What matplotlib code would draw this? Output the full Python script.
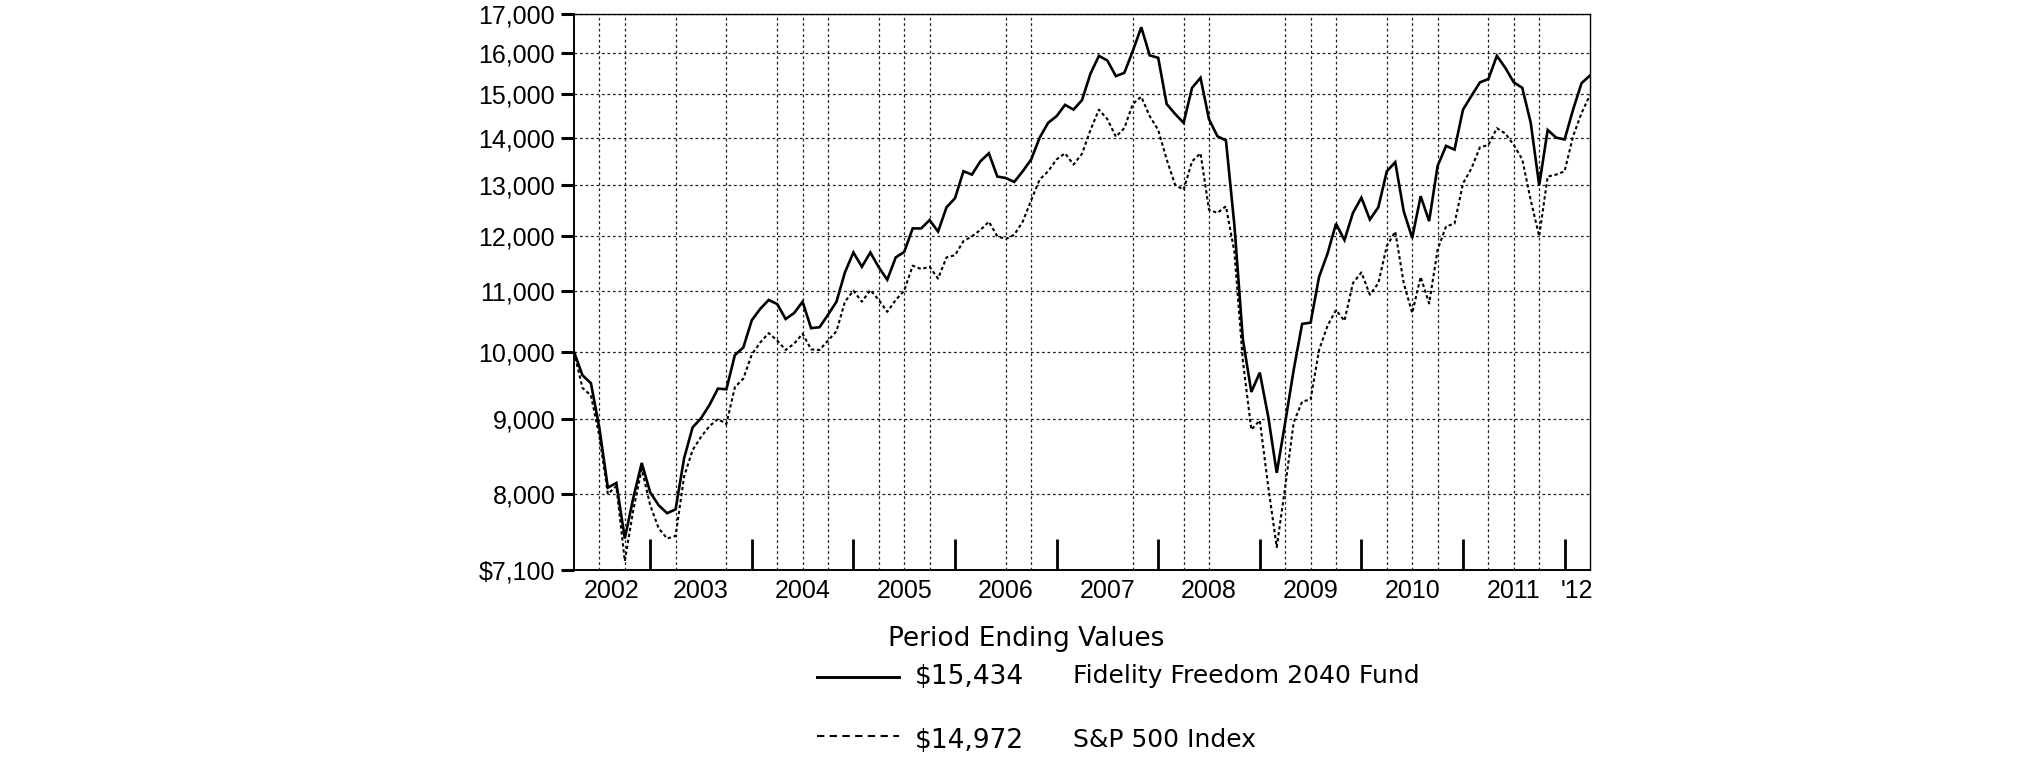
#!/usr/bin/env python3
"""
Fidelity Freedom 2040 Fund vs S&P 500 — $10,000 growth, 2002–2012
"""
import matplotlib
matplotlib.use("Agg")
import matplotlib.pyplot as plt
import matplotlib.transforms as mtransforms
from matplotlib.lines import Line2D
from matplotlib.ticker import NullLocator

plt.rcParams["font.family"] = ["Liberation Sans", "DejaVu Sans"]

# ── Data (month-end values, Mar 2002 → Mar 2012) ─────────────────────────
fund = [
    10000, 9640, 9520, 8870, 8080, 8140, 7460, 7950, 8400, 8020,
    7860, 7762, 7810, 8460, 8880, 9010, 9200, 9440, 9430, 9950,
    10070, 10510, 10700, 10850, 10780, 10530, 10630, 10820, 10380, 10395,
    10600, 10820, 11330, 11690, 11430, 11690, 11420, 11200, 11600, 11700,
    12140, 12140, 12300, 12080, 12550, 12730, 13280, 13210, 13490, 13660,
    13170, 13140, 13060, 13280, 13530, 14000, 14330, 14480, 14740, 14630,
    14850, 15480, 15920, 15800, 15420, 15500, 16040, 16650, 15930, 15870,
    14760, 14530, 14330, 15140, 15380, 14410, 14030, 13940, 12200, 10200,
    9390, 9680, 9030, 8270, 8950, 9720, 10450, 10470, 11250, 11670,
    12230, 11920, 12440, 12740, 12310, 12550, 13280, 13470, 12470, 11960,
    12770, 12280, 13390, 13820, 13740, 14630, 14950, 15270, 15350, 15920,
    15620, 15270, 15140, 14330, 12990, 14170, 14000, 13960, 14630, 15250,
    15434,
]
sp500 = [
    10000, 9450, 9340, 8760, 8000, 8100, 7200, 7800, 8320, 7860,
    7580, 7460, 7490, 8220, 8570, 8750, 8900, 9000, 8930, 9460,
    9590, 9960, 10150, 10300, 10180, 10030, 10130, 10290, 10040, 10030,
    10180, 10330, 10820, 11010, 10820, 11020, 10850, 10650, 10850, 11010,
    11450, 11390, 11430, 11220, 11600, 11640, 11900, 11990, 12110, 12270,
    11990, 11940, 12020, 12270, 12690, 13110, 13280, 13530, 13660, 13420,
    13650, 14170, 14630, 14410, 14020, 14210, 14760, 14930, 14480, 14170,
    13530, 13000, 12900, 13490, 13660, 12500, 12440, 12570, 11700, 9860,
    8850, 8980, 8090, 7360, 8090, 8950, 9250, 9280, 10030, 10420,
    10680, 10500, 11140, 11330, 10940, 11140, 11810, 12080, 11140, 10630,
    11250, 10790, 11740, 12180, 12230, 13030, 13340, 13790, 13840, 14210,
    14090, 13840, 13530, 12690, 11990, 13170, 13210, 13280, 14030, 14550,
    14972,
]

series_names = ["Fidelity Freedom 2040 Fund", "S&P 500 Index"]
end_labels = ["$15,434", "$14,972"]

ytick_vals = [7100, 8000, 9000, 10000, 11000, 12000, 13000, 14000, 15000, 16000, 17000]
ytick_labels = ["$7,100", "8,000", "9,000", "10,000", "11,000", "12,000",
                "13,000", "14,000", "15,000", "16,000", "17,000"]

# month index of each Jan 1st (0 = Mar 2002)
year_starts = [9, 21, 33, 45, 57, 69, 81, 93, 105, 117]
year_labels = ["2002", "2003", "2004", "2005", "2006", "2007",
               "2008", "2009", "2010", "2011", "'12"]
# quarterly dotted grid (some quarters have no line in the original)
grid_months = [3, 6, 9, 12, 18, 21, 24, 27, 30, 33, 36, 39, 42, 45, 51, 54, 57,
               66, 69, 72, 75, 84, 87, 90, 96, 99, 102, 105, 108, 111, 114, 117]

# ── Figure ────────────────────────────────────────────────────────────────
W, H = 2025, 783
fig = plt.figure(figsize=(W / 100, H / 100), dpi=100, facecolor="white")
ax = fig.add_axes([574 / W, 1 - 570 / H, (1590 - 574) / W, (570 - 14) / H])

months = list(range(len(fund)))
ax.plot(months, fund, color="black", lw=1.9, solid_joinstyle="miter", zorder=4)
ax.plot(months, sp500, color="black", lw=1.5, ls=(0, (1.6, 1.3)), zorder=3)

ax.set_yscale("log")
ax.set_ylim(7100, 17000)
ax.set_xlim(0, len(fund) - 1)
ax.set_yticks(ytick_vals)
ax.set_yticklabels(ytick_labels, fontsize=18)
ax.yaxis.set_minor_locator(NullLocator())
ax.tick_params(axis="y", length=9.5, width=2.2, pad=4, color="black")

ax.set_xticks(year_starts)
ax.set_xticklabels([])
ax.set_xticks(grid_months, minor=True)
ax.tick_params(axis="x", which="major", direction="in", length=22, width=2.0)
ax.tick_params(axis="x", which="minor", length=0)

grid_kw = dict(color="#222222", lw=0.9, ls=(0, (2.2, 2.2)))
ax.grid(which="major", axis="y", **grid_kw)
ax.grid(which="minor", axis="x", **grid_kw)
ax.set_axisbelow(True)

for side in ["left", "bottom"]:
    ax.spines[side].set_linewidth(1.4)
for side in ["top", "right"]:
    ax.spines[side].set_linewidth(1.0)

# year labels centred on each year span
trans = mtransforms.blended_transform_factory(ax.transData, ax.transAxes)
bounds = [0] + year_starts + [len(fund) - 1]
for lbl, a, b in zip(year_labels, bounds[:-1], bounds[1:]):
    ax.text((a + b) / 2, -28 / 556, lbl, transform=trans, ha="center",
            va="baseline", fontsize=18)

# ── Legend block ──────────────────────────────────────────────────────────
def fx(px):
    return px / W


def fy(px):
    return 1 - px / H


fig.text(fx(888), fy(646), "Period Ending Values", fontsize=19,
         family="DejaVu Sans", va="baseline")
fig.add_artist(Line2D([fx(817), fx(899)], [fy(677), fy(677)], color="black", lw=2.1))
fig.add_artist(Line2D([fx(817), fx(899)], [fy(736), fy(736)], color="black", lw=1.5,
                      ls=(0, (3.5, 2.6))))
fig.text(fx(915), fy(684), end_labels[0], fontsize=19, family="DejaVu Sans", va="baseline")
fig.text(fx(915), fy(748), end_labels[1], fontsize=19, family="DejaVu Sans", va="baseline")
fig.text(fx(1073), fy(683), series_names[0], fontsize=18, family="DejaVu Sans", va="baseline")
fig.text(fx(1073), fy(747), series_names[1], fontsize=18, family="DejaVu Sans", va="baseline")

fig.savefig("out.png", dpi=100, facecolor="white")
